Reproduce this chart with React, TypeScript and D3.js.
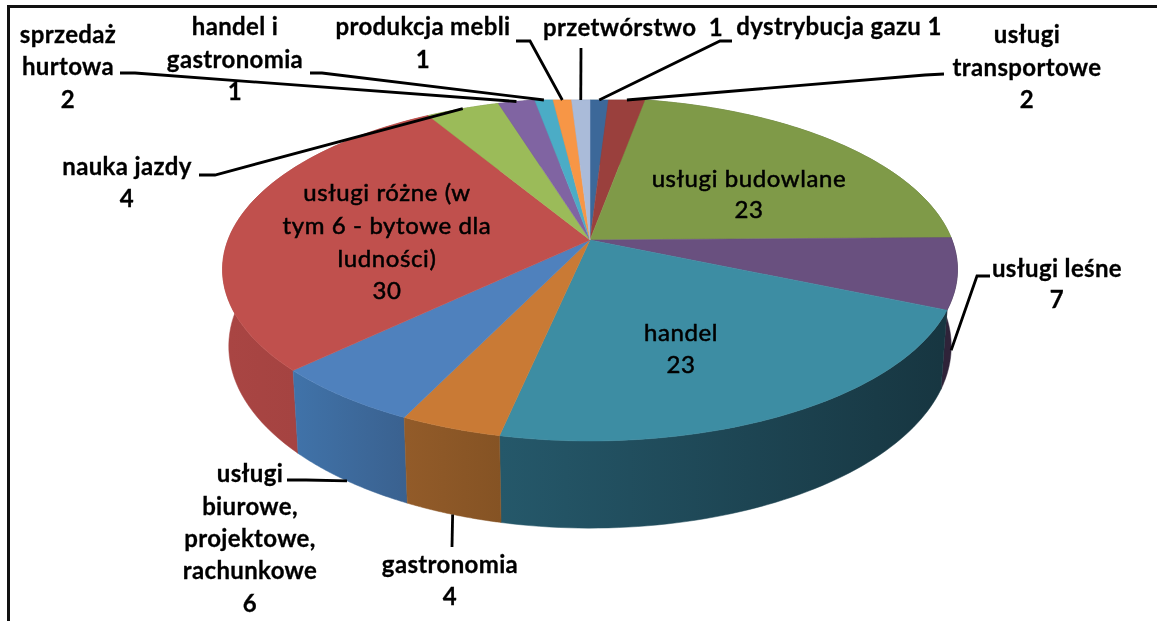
import React from "react";
import * as d3 from "d3";

const categories = [
  "dystrybucja gazu", "usługi transportowe", "usługi budowlane", "usługi leśne", "handel", "gastronomia",
  "usługi biurowe, projektowe, rachunkowe", "usługi różne", "nauka jazdy", "sprzedaż hurtowa",
  "handel i gastronomia", "produkcja mebli", "przetwórstwo",
];
const values = [1, 2, 23, 7, 23, 4, 6, 30, 4, 2, 1, 1, 1];
const topColors = ["#3c6899", "#9a403d", "#7f9a48", "#69507f", "#3d8da3", "#c97a35", "#4f81bd", "#c0504d", "#9bbb59", "#8064a2", "#4bacc6", "#f79646", "#aabbd9"];
const wallLeft = ["#2a4a6c", "#6d2d2b", "#5a6d33", "#2f2339", "#25586a", "#925b29", "#4072a8", "#a94543", "#6e8540", "#5b4773", "#357a8c", "#af6a32", "#7885a0"];
const wallRight = ["#2a4a6c", "#6d2d2b", "#5a6d33", "#2f2339", "#173641", "#855324", "#3a618f", "#9c3f3d", "#6e8540", "#5b4773", "#357a8c", "#af6a32", "#7885a0"];

type Lbl = { lines: string[]; x: number; ys: number[]; inner?: boolean };
const labels: Lbl[] = [
  { lines: ["dystrybucja gazu 1"], x: 839, ys: [35] },
  { lines: ["usługi", "transportowe", "2"], x: 1027, ys: [43, 76, 108] },
  { lines: ["usługi budowlane", "23"], x: 749, ys: [187, 218], inner: true },
  { lines: ["usługi leśne", "7"], x: 1057, ys: [277, 308] },
  { lines: ["handel", "23"], x: 681, ys: [341, 373], inner: true },
  { lines: ["gastronomia", "4"], x: 450, ys: [573, 605] },
  { lines: ["usługi", "biurowe,", "projektowe,", "rachunkowe", "6"], x: 250, ys: [482, 515, 547, 579, 612] },
  { lines: ["usługi różne (w", "tym 6 - bytowe dla", "ludności)", "30"], x: 387, ys: [201, 234, 267, 299], inner: true },
  { lines: ["nauka jazdy", "4"], x: 127, ys: [175, 207] },
  { lines: ["sprzedaż", "hurtowa", "2"], x: 68, ys: [43, 75, 108] },
  { lines: ["handel i", "gastronomia", "1"], x: 235, ys: [35, 68, 100] },
  { lines: ["produkcja mebli", "1"], x: 423, ys: [35, 68] },
  { lines: ["przetwórstwo  1"], x: 633, ys: [36] },
];
// leader polylines, from the label towards the slice; the slice end is projected
const leaders: ([number, number][] | null)[] = [
  [[732, 41], [720, 41]],
  [[944, 74], [925, 75]],
  null,
  [[990, 276], [977, 276]],
  null,
  [[452, 547]],
  [[287, 480], [306, 480]],
  null,
  [[199, 175], [215, 175]],
  [[120, 73], [135, 73]],
  [[310, 73], [322, 73]],
  [[516, 41], [530, 41]],
  [[581, 48]],
];

const W = 1157, H = 621;
const CX = 590, CY = 240, A = 362, B = 166.4, P = 0.172, SHRINK = 0.983, DEPTH = 75, TOP_CLIP = 100;

const top = (t: number): [number, number] => {
  const X = Math.sin(t), Y = -Math.cos(t), w = 1 - P * Y;
  return [CX + (A * X) / w, Math.max(TOP_CLIP, CY + (B * Y) / w)];
};
const bottom = (t: number): [number, number] => {
  const X = Math.sin(t), Y = -Math.cos(t), w = 1 - P * Y;
  return [CX + (SHRINK * A * X) / w, CY + (SHRINK * B * Y + DEPTH) / w];
};
const arcs = d3.pie<number>().sort(null).value((d) => d)(values);
const samples = (a0: number, a1: number) => d3.range(0, 61).map((i) => a0 + ((a1 - a0) * i) / 60);
const line = d3.line();

const isFront = (t: number) => t > Math.PI / 2 && t < (3 * Math.PI) / 2;
const wallOrder = arcs.map((_, i) => i).sort((a, b) => {
  const m = (i: number) => Math.cos((arcs[i].startAngle + arcs[i].endAngle) / 2);
  return m(b) - m(a);
});

export default function App() {
  const outer = { fontFamily: "Lato, sans-serif", fontWeight: 700, fontSize: 24, letterSpacing: 0.35, fill: "#000", stroke: "#000", strokeWidth: 0.3 } as const;
  const inner = { fontFamily: "Lato, sans-serif", fontWeight: 400, fontSize: 24, letterSpacing: 0.6, fill: "#000", stroke: "#000", strokeWidth: 0.55 } as const;
  return (
    <svg width={W} height={H} viewBox={`0 0 ${W} ${H}`} style={{ position: "fixed", left: 0, top: 0, background: "#fff" }}>
      <defs>
        {arcs.map((a, i) => {
          const xs = samples(a.startAngle, a.endAngle).map((t) => bottom(t)[0]);
          return (
            <linearGradient key={i} id={`w${i}`} gradientUnits="userSpaceOnUse" x1={d3.min(xs)} x2={d3.max(xs)} y1={0} y2={0}>
              <stop offset="0%" stopColor={wallLeft[i]} />
              <stop offset="100%" stopColor={wallRight[i]} />
            </linearGradient>
          );
        })}
        <filter id="soft" x="-5%" y="-20%" width="110%" height="140%">
          <feGaussianBlur stdDeviation="0.45" />
        </filter>
      </defs>
      <path d={`M8.5 ${H}V6.5H${W}`} fill="none" stroke="#111" strokeWidth={3} />
      {wallOrder.map((i) => {
        const ts = samples(arcs[i].startAngle, arcs[i].endAngle);
        const pts = [...ts.map(top), ...ts.slice().reverse().map(bottom)];
        return <path key={i} d={line(pts)! + "Z"} fill={`url(#w${i})`} stroke={`url(#w${i})`} strokeWidth={0.5} />;
      })}
      {arcs.map((a, i) => {
        const ts = samples(a.startAngle, a.endAngle);
        const pts: [number, number][] = [[CX, CY], ...ts.map(top)];
        return <path key={i} d={line(pts)! + "Z"} fill={topColors[i]} stroke={topColors[i]} strokeWidth={0.5} />;
      })}
      {arcs.map((a, i) => {
        const l = leaders[i];
        if (!l) return null;
        const mid = (a.startAngle + a.endAngle) / 2;
        const end = isFront(mid) || (mid > Math.PI / 2 - 0.3 && mid < Math.PI / 2) ? bottom(mid) : top(mid);
        return <path key={i} d={line([...l, end])!} fill="none" stroke="#000" strokeWidth={2.8} />;
      })}
      <g filter="url(#soft)">
        {labels.map((l, i) =>
          l.lines.map((s, j) => (
            <text key={`${i}-${j}`} x={l.x} y={l.ys[j]} textAnchor="middle" xmlSpace="preserve" style={l.inner ? inner : outer}>
              {s}
            </text>
          ))
        )}
      </g>
      <title>{categories.join(", ")}</title>
    </svg>
  );
}
